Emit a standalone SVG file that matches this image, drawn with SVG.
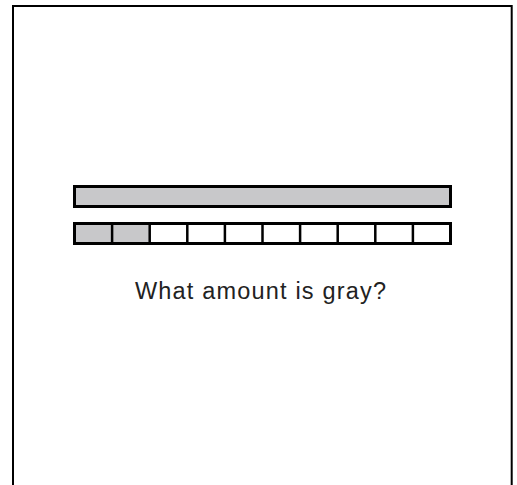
<svg xmlns="http://www.w3.org/2000/svg" width="517" height="485" viewBox="0 0 517 485">
<style>
.frame{fill:none;stroke:#000;stroke-width:2}
.bar{stroke:#000;stroke-width:3}
.g{fill:#c8c8ca}
.w{fill:#fff}
.div{stroke:#000;stroke-width:2.5}
.lbl{font-family:"Liberation Sans",Arial,sans-serif;font-size:23.5px;fill:#222}
</style>
<rect width="517" height="485" fill="#fff"/>
<polyline class="frame" points="13,485 13,6 511.7,6 511.7,485"/>
<g id="whole">
<rect class="bar g" x="74.5" y="186.5" width="376" height="20"/>
</g>
<g id="parts">
<rect class="bar w" x="74.5" y="223.5" width="376" height="20"/>
<rect class="g" x="76" y="225" width="73.7" height="17"/>
</g>
<g id="dividers">
<path class="div" d="M112.1 223v21M149.7 223v21M187.3 223v21M224.9 223v21M262.5 223v21M300.1 223v21M337.7 223v21M375.3 223v21M412.9 223v21"/>
</g>
<g id="question">
<text class="lbl" x="135" y="299" textLength="251" lengthAdjust="spacing">What amount is gray?</text>
</g>
</svg>
